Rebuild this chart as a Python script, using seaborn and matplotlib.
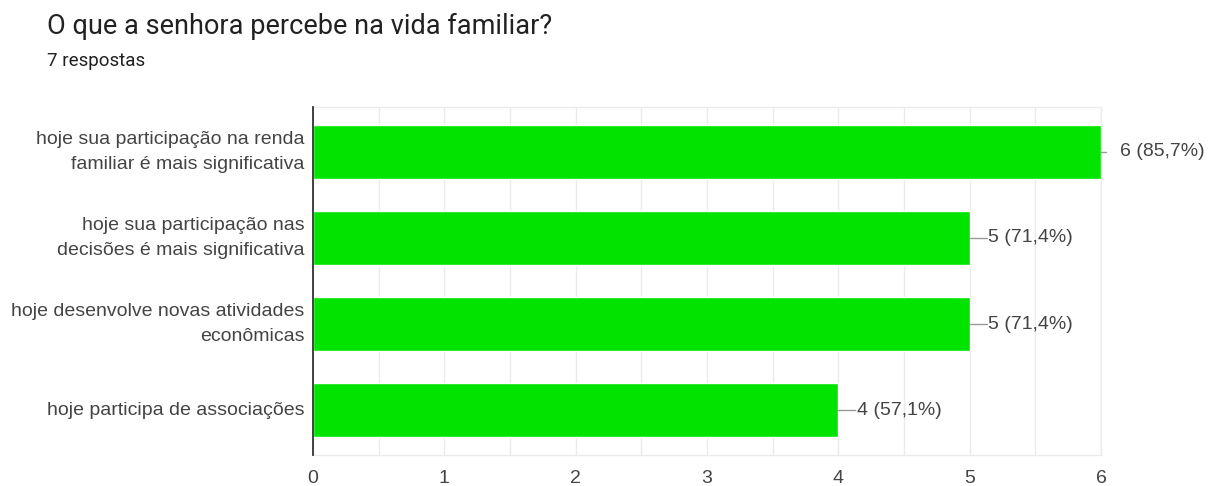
import matplotlib
matplotlib.use("Agg")
import matplotlib.pyplot as plt
import numpy as np
import pandas as pd
import seaborn as sns

sns.set_theme(style="white")
plt.rcParams["font.family"] = ["Liberation Sans", "DejaVu Sans"]

TITLE = "O que a senhora percebe na vida familiar?"
SUBTITLE = "7 respostas"
TOTAL = 7

categories = [
    "hoje sua participação na renda\nfamiliar é mais significativa",
    "hoje sua participação nas\ndecisões é mais significativa",
    "hoje desenvolve novas atividades\neconômicas",
    "hoje participa de associações",
]
counts = [6, 5, 5, 4]

BAR_COLOR = "#00e400"
TEXT_COLOR = "#444444"
GRID_COLOR = "#ebebeb"

df = pd.DataFrame({"categoria": categories, "respostas": counts})

fig = plt.figure(figsize=(12.16, 4.86), dpi=100)
ax = fig.add_axes([0.2574, 0.0638, 0.6480, 0.7160])

sns.barplot(data=df, x="respostas", y="categoria", color=BAR_COLOR,
            width=0.63, saturation=1, ax=ax, zorder=3)

ax.set_xlim(0, 6)
ax.set_ylim(len(categories) - 0.48, -0.52)
ax.set_xticks(range(0, 7))
ax.set_xticks(np.arange(0, 6.5, 0.5), minor=True)
ax.grid(axis="x", which="both", color=GRID_COLOR, linewidth=1, zorder=0)
ax.set_xlabel("")
ax.set_ylabel("")

for side in ["top", "right", "bottom"]:
    ax.spines[side].set_color(GRID_COLOR)
    ax.spines[side].set_linewidth(1)
ax.spines["left"].set_color("#333333")
ax.spines["left"].set_linewidth(1.3)
ax.spines["left"].set_zorder(4)

ax.tick_params(axis="x", which="both", length=0, pad=11, labelsize=14, labelcolor=TEXT_COLOR)
ax.tick_params(axis="y", length=0, pad=6, labelsize=14, labelcolor=TEXT_COLOR)
for lbl in ax.get_yticklabels():
    lbl.set_linespacing(1.6)
    lbl.set_verticalalignment("center")

# value labels with a short leader line
for i, v in enumerate(counts):
    pct = f"{v} ({v / TOTAL * 100:.1f}%)".replace(".", ",")
    if v >= 6:
        ax.plot([v, v + 0.04], [i, i], color="#999999", lw=1, clip_on=False, zorder=4)
        ax.text(v + 0.145, i, pct, va="center", ha="left", fontsize=14, color=TEXT_COLOR)
    else:
        ax.plot([v, v + 0.13], [i, i], color="#999999", lw=1, clip_on=False, zorder=4)
        ax.text(v + 0.14, i, pct, va="center", ha="left", fontsize=14, color=TEXT_COLOR)

fig.text(47 / 1216, 1 - 26 / 486, TITLE, fontsize=19.5, color="#212121", va="center", ha="left",
         family=["Roboto", "DejaVu Sans"])
fig.text(47 / 1216, 1 - 61 / 486, SUBTITLE, fontsize=13.5, color="#212121", va="center", ha="left",
         family=["Roboto", "DejaVu Sans"])

fig.savefig("out.png", dpi=100)
